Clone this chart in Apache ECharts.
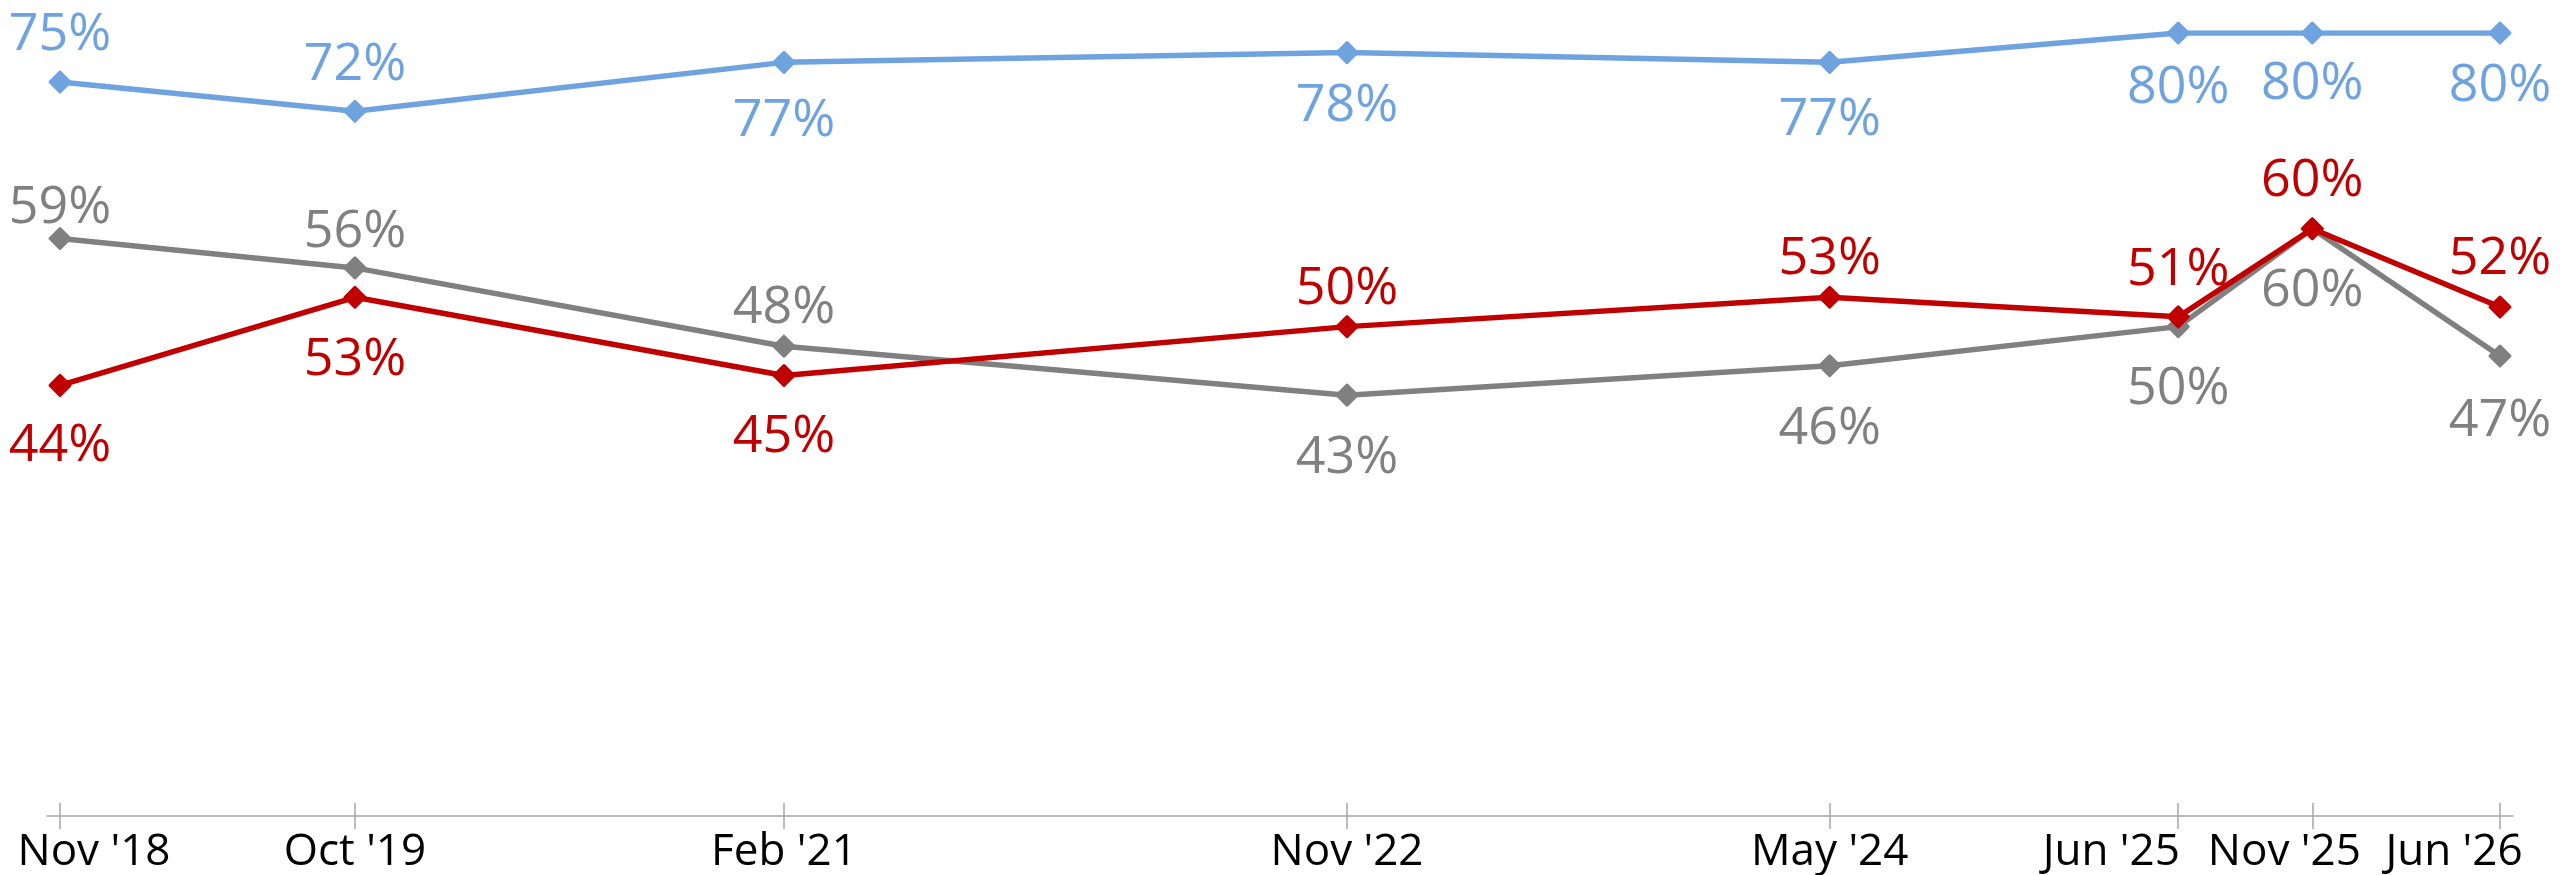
<!DOCTYPE html>
<html>
<head>
<meta charset="utf-8">
<script src="https://cdn.jsdelivr.net/npm/echarts@6/dist/echarts.min.js"></script>
<style>
html,body{margin:0;padding:0;background:#fff;}
#chart{width:2560px;height:875px;}
</style>
</head>
<body>
<div id="chart"></div>
<script>
// Survey dates (year-month) and their tick labels
const dates = ['2018-11', '2019-10', '2021-02', '2022-11', '2024-05', '2025-06', '2025-11', '2026-06'];
const tickLabels = ["Nov '18", "Oct '19", "Feb '21", "Nov '22", "May '24", "Jun '25", "Nov '25", "Jun '26"];

// Series values (%)
const blueValues = [75, 72, 77, 78, 77, 80, 80, 80];
const grayValues = [59, 56, 48, 43, 46, 50, 60, 47];
const redValues  = [44, 53, 45, 50, 53, 51, 60, 52];

// Label placement for each point ('top' / 'bottom') and gap (px) between marker and text
const bluePos = ['top', 'top', 'bottom', 'bottom', 'bottom', 'bottom', 'bottom', 'bottom'];
const grayPos = ['top', 'top', 'top', 'bottom', 'bottom', 'bottom', 'bottom', 'bottom'];
const redPos  = ['bottom', 'bottom', 'bottom', 'top', 'top', 'top', 'top', 'top'];
const blueGap = [31, 31, 36, 31, 35, 32, 28, 30];
const grayGap = [15, 20, 23, 40, 40, 40, 39, 42];
const redGap  = [38, 40, 39, 22, 23, 31, 32, 32];
// horizontal nudge (px) of each tick label, as in the original layout
const tickShift = [34, 0, 0, 0, 0, -67, -28, -46];

// month offset from the first survey date
function monthIndex(s) {
  const [y, m] = s.split('-').map(Number);
  const [y0, m0] = dates[0].split('-').map(Number);
  return (y - y0) * 12 + (m - m0);
}
const xs = dates.map(monthIndex);
const labelIdx = {};
xs.forEach((x, i) => { labelIdx[x] = i; });

const FONT = '"Open Sans", "Noto Sans", sans-serif';
const AXIS_FONT = 44;

const rich = {};
tickShift.forEach((s, i) => {
  rich['t' + i] = {
    fontSize: AXIS_FONT,
    fontFamily: FONT,
    color: '#000000',
    padding: [0, s < 0 ? -2 * s : 0, 0, s > 0 ? 2 * s : 0]
  };
});

function makeSeries(name, values, positions, gaps, color) {
  return {
    name: name,
    type: 'line',
    data: values.map((v, i) => ({
      value: [xs[i], v],
      label: {
        position: positions[i],
        distance: positions[i] === 'top' ? gaps[i] - 22 : gaps[i] - 14.5
      }
    })),
    symbol: 'diamond',
    symbolSize: 20,
    lineStyle: { color: color, width: 5.5 },
    itemStyle: { color: color, borderColor: color, borderWidth: 3, borderJoin: 'round' },
    label: {
      show: true,
      formatter: p => p.value[1] + '%',
      color: color,
      fontSize: 52,
      fontFamily: FONT
    },
    z: name === 'red' ? 4 : 3,
    animation: false
  };
}

const chart = echarts.init(document.getElementById('chart'));
const xMin = -0.485, xMax = xs[xs.length - 1] + 0.485;
chart.setOption({
  backgroundColor: '#ffffff',
  animation: false,
  grid: { left: 47, right: 47, top: 33, bottom: 59, outerBoundsMode: 'none', containLabel: false },
  xAxis: [
    {
      type: 'value',
      min: xMin,
      max: xMax,
      position: 'bottom',
      splitLine: { show: false },
      axisLine: { show: true, lineStyle: { color: '#A6A6A6', width: 1.5 } },
      axisTick: { show: true, customValues: xs, length: 13, lineStyle: { color: '#A6A6A6', width: 1.5 } },
      axisLabel: {
        show: true,
        customValues: xs,
        formatter: v => {
          const i = labelIdx[Math.round(v)];
          return i === undefined ? '' : '{t' + i + '|' + tickLabels[i] + '}';
        },
        rich: rich,
        color: '#000000',
        fontSize: AXIS_FONT,
        fontFamily: FONT,
        margin: 14,
        hideOverlap: false
      }
    },
    {
      type: 'value',
      min: xMin,
      max: xMax,
      position: 'bottom',
      offset: 0,
      splitLine: { show: false },
      axisLine: { show: false },
      axisTick: { show: true, inside: true, customValues: xs, length: 13, lineStyle: { color: '#A6A6A6', width: 1.5 } },
      axisLabel: { show: false }
    }
  ],
  yAxis: {
    type: 'value',
    min: 0,
    max: 80,
    show: false,
    splitLine: { show: false }
  },
  series: [
    makeSeries('blue', blueValues, bluePos, blueGap, '#6FA3DF'),
    makeSeries('gray', grayValues, grayPos, grayGap, '#808080'),
    makeSeries('red', redValues, redPos, redGap, '#C00000')
  ]
});
</script>
</body>
</html>
